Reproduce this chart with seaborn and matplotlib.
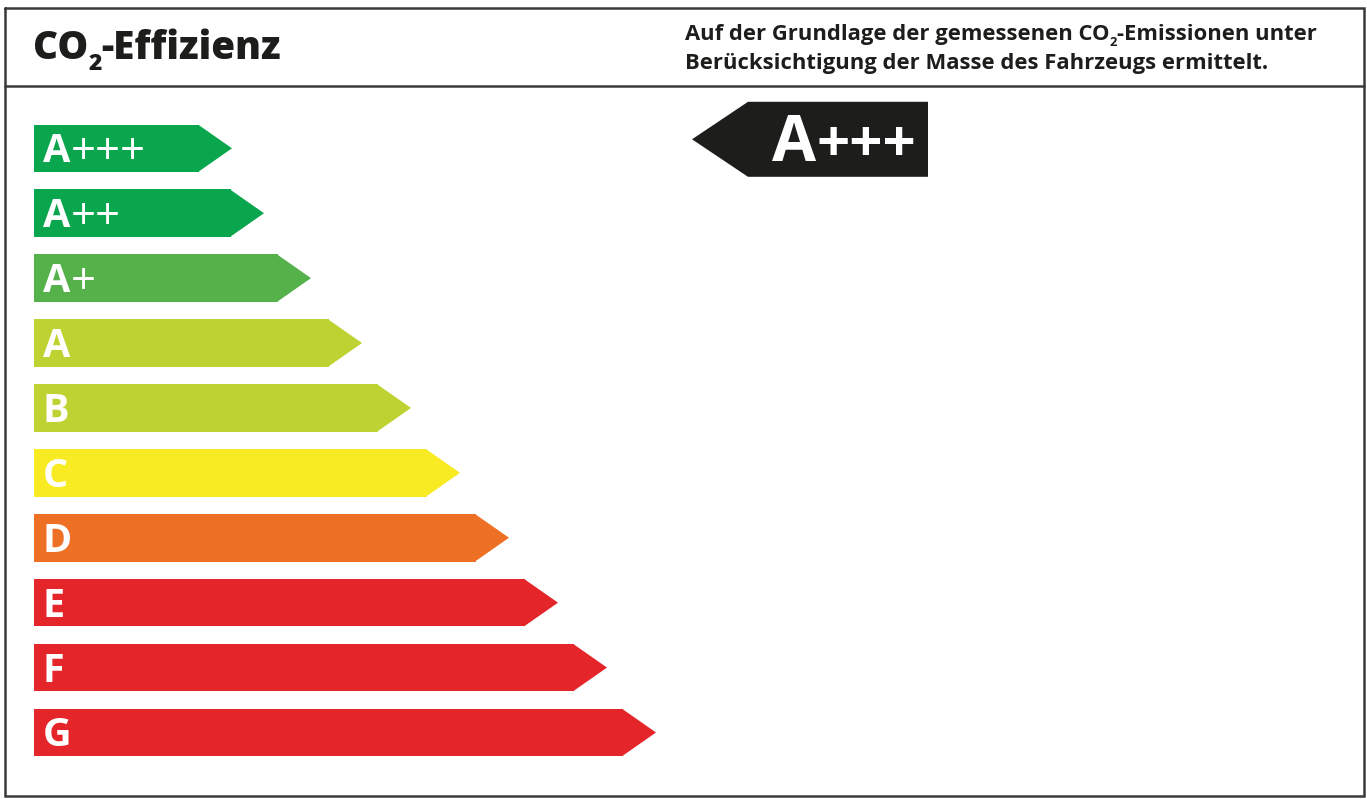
import numpy as np
import pandas as pd
import matplotlib
matplotlib.use("Agg")
import matplotlib.pyplot as plt
import seaborn as sns
from matplotlib.patches import Polygon

# ---------------- data ----------------
classes = ["A+++", "A++", "A+", "A", "B", "C", "D", "E", "F", "G"]
body_len = [165, 197, 244, 295, 344, 393, 442, 491, 540, 589]
class_colors = ["#0AA64D", "#0AA64D", "#55B14A", "#BED231", "#BED231",
                "#F8EA23", "#EE7025", "#E4252A", "#E4252A", "#E4252A"]
rating = "A+++"
title_parts = ["CO", "2", "-Effizienz"]
note_line1 = ["Auf der Grundlage der gemessenen CO", "2", "-Emissionen unter"]
note_line2 = "Berücksichtigung der Masse des Fahrzeugs ermittelt."

# ---------------- style / layout ----------------
W, H = 1367, 799
FONT = ["Open Sans", "DejaVu Sans"]
sns.set_theme(style="white")
plt.rcParams["font.family"] = FONT

fig = plt.figure(figsize=(W / 100, H / 100), dpi=100)
fig.patch.set_facecolor("white")
ax = fig.add_axes([0, 0, 1, 1])

df = pd.DataFrame({"cls": classes, "len": body_len})
sns.barplot(data=df, x="len", y="cls", hue="cls", order=classes,
            palette=dict(zip(classes, class_colors)), orient="h",
            width=0.732, saturation=1, legend=False, linewidth=0, ax=ax)

row0, step = 148.3, 64.91          # pixel layout of category rows
ax.set_ylim((H - row0) / step, -row0 / step)
ax.set_xlim(-34, W - 34)
ax.axis("off")

fig.canvas.draw()
renderer = fig.canvas.get_renderer()
px = 1 / step                       # one pixel in y data units

tip = 33
for p, cls in zip(ax.patches, classes):
    x0, y0, w, h = p.get_x(), p.get_y(), p.get_width(), p.get_height()
    ax.add_patch(Polygon([(x0 + w - 1, y0), (x0 + w + tip, y0 + h / 2),
                          (x0 + w - 1, y0 + h)], closed=True,
                         facecolor=p.get_facecolor(), linewidth=0))
    yc = y0 + h / 2
    base = yc + 14 * px
    t = ax.text(9, base, cls[0], color="white", fontsize=28.5,
                fontweight="bold", va="baseline", ha="left", family=FONT)
    if len(cls) > 1:
        bb = t.get_window_extent(renderer)
        ax.text(9 + bb.width, base + 2 * px, cls[1:], color="white",
                fontsize=31.5, fontweight="normal", va="baseline",
                ha="left", family=FONT)

# ---------------- overlay (frame, header, indicator) ----------------
ax2 = fig.add_axes([0, 0, 1, 1])
ax2.set_xlim(0, W)
ax2.set_ylim(H, 0)
ax2.axis("off")
ax2.patch.set_visible(False)

lw = 2.5 * 72 / 100
ax2.plot([5, 1364, 1364, 5, 5], [8, 8, 796, 796, 8], color="#3a3a3a", lw=lw,
         solid_joinstyle="miter")
ax2.plot([5, 1364], [86, 86], color="#3a3a3a", lw=lw)


def runs(x, y, parts, color="#1d1d1b"):
    for s, size, weight, dy in parts:
        t = ax2.text(x, y + dy, s, fontsize=size, fontweight=weight,
                     color=color, va="baseline", ha="left", family=FONT)
        x += t.get_window_extent(renderer).width
    return x


# title
runs(33, 59, [(title_parts[0], 27.8, "heavy", 0), (title_parts[1], 16.5, "heavy", 11),
              (title_parts[2], 27.8, "heavy", 0)])

# note lines
ns = 15.8
runs(685, 40, [(note_line1[0], ns, "bold", 0), (note_line1[1], ns * 0.6, "bold", 6),
               (note_line1[2], ns, "bold", 0)])
runs(685, 69, [(note_line2, ns, "bold", 0)])

# rating indicator
ri = classes.index(rating)
yc_pix = H - ax.transData.transform((0, ri))[1] - 9
hh = 37.5
ax2.add_patch(Polygon([(692, yc_pix), (748, yc_pix - hh), (928, yc_pix - hh),
                       (928, yc_pix + hh), (748, yc_pix + hh)], closed=True,
                      facecolor="#1d1d1b", linewidth=0))
runs(772, yc_pix + 22, [(rating[0], 46, "bold", 0), (rating[1:], 42, "bold", 0)],
     color="white")

fig.savefig("out.png", dpi=100, facecolor="white")
